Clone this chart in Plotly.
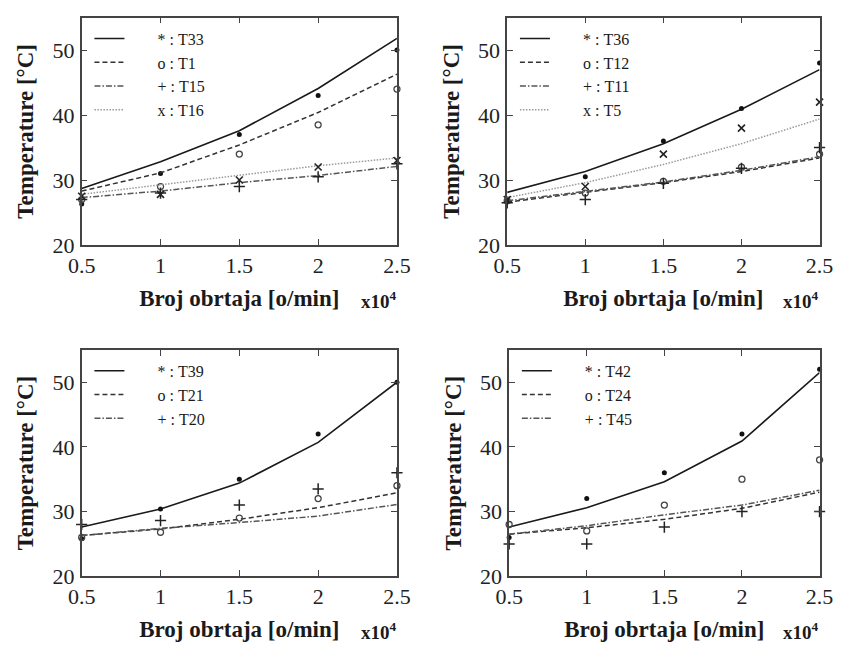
import plotly.graph_objects as go

rpm = [0.5, 1.0, 1.5, 2.0, 2.5]
x_ticks = [0.5, 1.0, 1.5, 2.0, 2.5]
x_tick_text = ["0.5", "1", "1.5", "2", "2.5"]
y_ticks = [20, 30, 40, 50]

# Panel 1
fit_T33 = [28.7, 32.8, 37.6, 44.1, 51.8]
fit_T1 = [28.3, 31.1, 35.4, 40.4, 46.3]
fit_T15 = [27.3, 28.3, 29.6, 30.7, 32.1]
fit_T16 = [27.8, 29.3, 30.7, 32.2, 33.4]
meas_T33 = [26.3, 31.0, 37.0, 43.0, 50.0]
meas_T1 = [27.0, 29.0, 34.0, 38.5, 44.0]
meas_T15 = [27.0, 28.0, 29.0, 30.5, 32.5]
meas_T16 = [27.5, 27.8, 30.0, 32.0, 33.0]

# Panel 2
fit_T36 = [28.1, 31.3, 35.6, 40.9, 47.0]
fit_T12 = [26.6, 28.1, 29.6, 31.3, 33.4]
fit_T11 = [26.8, 28.2, 29.7, 31.5, 33.6]
fit_T5 = [27.3, 29.6, 32.4, 35.6, 39.4]
meas_T36 = [27.1, 30.5, 36.0, 41.0, 48.0]
meas_T12 = [26.8, 28.0, 29.8, 32.0, 34.0]
meas_T11 = [26.5, 27.0, 29.5, 31.8, 35.0]
meas_T5 = [27.0, 29.0, 34.0, 38.0, 42.0]

# Panel 3
fit_T39 = [27.6, 30.4, 34.4, 40.7, 50.0]
fit_T21 = [26.3, 27.3, 28.8, 30.6, 32.9]
fit_T20 = [26.3, 27.4, 28.3, 29.3, 31.1]
meas_T39 = [25.8, 30.4, 35.0, 42.0, 50.0]
meas_T21 = [26.0, 26.8, 29.0, 32.0, 34.0]
meas_T20 = [28.0, 28.6, 31.0, 33.5, 36.0]

# Panel 4
fit_T42 = [27.6, 30.6, 34.6, 40.9, 51.5]
fit_T24 = [26.5, 27.5, 28.8, 30.5, 33.0]
fit_T45 = [26.5, 27.8, 29.5, 31.0, 33.3]
meas_T42 = [26.0, 32.0, 36.0, 42.0, 52.0]
meas_T24 = [28.0, 27.0, 31.0, 35.0, 38.0]
meas_T45 = [25.0, 25.0, 27.6, 30.0, 30.0]

x_title = "Broj obrtaja [o/min]"
y_title = "Temperature [°C]"
scale_label = "x10<sup>4</sup>"

SERIF = "Times New Roman, Liberation Serif, DejaVu Serif, serif"
NB = "\u00a0"

line_styles = [
    dict(color="#1a1a1a", width=1.6, dash="solid"),
    dict(color="#333333", width=1.5, dash="5px,3px"),
    dict(color="#555555", width=1.5, dash="6px,2px,1.5px,2px"),
    dict(color="#9a9a9a", width=1.5, dash="1.5px,1.5px"),
]
marker_styles = {
    "*": dict(symbol="circle", size=5, color="#111111"),
    "o": dict(symbol="circle-open", size=6, color="#444444", line=dict(width=1.3, color="#444444")),
    "+": dict(symbol="cross-thin", size=8, color="#222222", line=dict(width=1.5, color="#222222")),
    "x": dict(symbol="x-thin", size=7, color="#222222", line=dict(width=1.6, color="#222222")),
}

panels = [
    dict(fits=[fit_T33, fit_T1, fit_T15, fit_T16],
         meas=[meas_T33, meas_T1, meas_T15, meas_T16],
         syms=["*", "o", "+", "x"], names=["T33", "T1", "T15", "T16"],
         xd=[70 / 850, 396 / 850], yd=[1 - 250 / 650, 1 - 18 / 650]),
    dict(fits=[fit_T36, fit_T12, fit_T11, fit_T5],
         meas=[meas_T36, meas_T12, meas_T11, meas_T5],
         syms=["*", "o", "+", "x"], names=["T36", "T12", "T11", "T5"],
         xd=[510 / 850, 833 / 850], yd=[1 - 250 / 650, 1 - 18 / 650]),
    dict(fits=[fit_T39, fit_T21, fit_T20],
         meas=[meas_T39, meas_T21, meas_T20],
         syms=["*", "o", "+"], names=["T39", "T21", "T20"],
         xd=[70 / 850, 396 / 850], yd=[1 - 588 / 650, 1 - 357 / 650]),
    dict(fits=[fit_T42, fit_T24, fit_T45],
         meas=[meas_T42, meas_T24, meas_T45],
         syms=["*", "o", "+"], names=["T42", "T24", "T45"],
         xd=[512 / 850, 833 / 850], yd=[1 - 588 / 650, 1 - 357 / 650]),
]

fig = go.Figure()
layout = dict(
    width=850, height=650,
    margin=dict(l=0, r=0, t=0, b=0),
    paper_bgcolor="white", plot_bgcolor="white",
    font=dict(family=SERIF, color="#222222"),
    showlegend=True,
    annotations=[],
)

for i, p in enumerate(panels):
    k = i + 1
    sfx = "" if k == 1 else str(k)
    xa, ya = "x" + sfx, "y" + sfx
    leg = "legend" + sfx
    for j, (fit, meas, sym, nm) in enumerate(zip(p["fits"], p["meas"], p["syms"], p["names"])):
        fig.add_trace(go.Scatter(
            x=rpm, y=fit, mode="lines", xaxis=xa, yaxis=ya,
            line=line_styles[j], legend=leg,
            name=NB * 7 + sym + NB + ":" + NB + nm,
        ))
        fig.add_trace(go.Scatter(
            x=rpm, y=meas, mode="markers", xaxis=xa, yaxis=ya,
            marker=marker_styles[sym], showlegend=False, cliponaxis=False,
        ))
    axis_common = dict(
        showgrid=False, zeroline=False, showline=True, mirror="ticks",
        linecolor="#444444", linewidth=1.5, ticks="inside", ticklen=6,
        tickwidth=1.3, tickcolor="#444444",
        tickfont=dict(family=SERIF, size=22, color="#222222"),
    )
    layout["xaxis" + sfx] = dict(
        axis_common, domain=p["xd"], anchor=ya, range=[0.5, 2.5],
        tickvals=x_ticks, ticktext=x_tick_text, ticklabelstandoff=0,
        title=dict(text=x_title, standoff=13,
                   font=dict(family=SERIF, size=23, weight="bold", color="#1a1a1a")),
    )
    layout["yaxis" + sfx] = dict(
        axis_common, domain=p["yd"], anchor=xa, range=[20, 55],
        tickvals=y_ticks, ticklabelstandoff=1,
        title=dict(text=y_title, standoff=12,
                   font=dict(family=SERIF, size=23, weight="bold", color="#1a1a1a")),
    )
    layout[leg] = dict(
        x=p["xd"][0] + 8 / 850, y=p["yd"][1] - 4 / 650,
        xanchor="left", yanchor="top", bgcolor="rgba(0,0,0,0)", borderwidth=0,
        font=dict(family=SERIF, size=16, color="#1a1a1a"),
        tracegroupgap=0, itemwidth=30,
    )
    layout["annotations"].append(dict(
        text=scale_label, xref="paper", yref="paper",
        x=p["xd"][1] + 2 / 850, y=p["yd"][0] - 56 / 650,
        xanchor="right", yanchor="middle", showarrow=False,
        font=dict(family=SERIF, size=19, weight="bold", color="#1a1a1a"),
    ))

fig.update_layout(**layout)
fig.write_html("out.html")
